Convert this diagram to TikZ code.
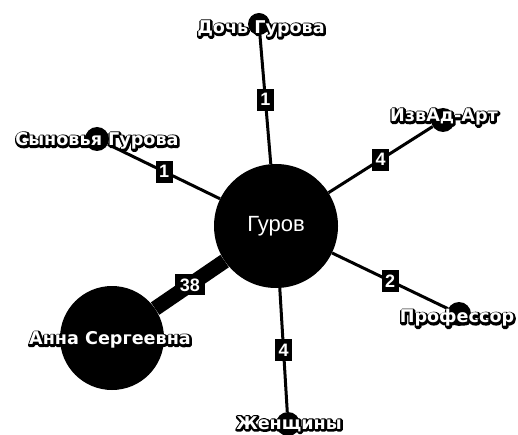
\documentclass[tikz,border=0pt]{standalone}
\usepackage{fontspec}
\setmainfont{Liberation Sans}
\newfontfamily\lblfont{DejaVu Sans}
\newcommand{\strk}[1]{\special{pdf:literal direct 2 Tr 3.8 w 1 j}#1\special{pdf:literal direct 0 Tr}}
\newcommand{\halolabel}[4]{%
  \node[wlabel,text=black] (#3h) at (#1+0.6,#2+0.6) {\strk{#4}};
  \node[wlabel,text=white] (#3) at (#1,#2) {#4};
}
\begin{document}
\begin{tikzpicture}[x=1pt,y=-1pt,
  vert/.style={circle,fill=black,inner sep=0pt,minimum size=#1},
  edge/.style={line width=3pt,black},
  wlabel/.style={font=\lblfont\bfseries\fontsize{17.6}{18}\selectfont,inner sep=0pt},
  numbox/.style={fill=black,text=white,font=\bfseries\fontsize{18}{18}\selectfont,minimum width=17pt,minimum height=22pt,inner sep=1pt}]
\useasboundingbox (0,0) rectangle (518,435);
\fill[white] (0,0) rectangle (518,435);
% vertices
\node[vert=124pt,text=white,font=\fontsize{22}{22}\selectfont] (gurov) at (276,226) {Гуров};
\node[vert=104pt] (anna) at (112,338) {};
\node[vert=22pt] (doch) at (259,24) {};
\node[vert=24pt] (syn) at (97,139) {};
\node[vert=24pt] (izv) at (443,120) {};
\node[vert=24pt] (prof) at (459,314) {};
\node[vert=24pt] (zhen) at (288,424) {};
% edges
\draw[edge] (gurov) -- node[numbox] (e1) {1} (doch);
\draw[edge] (gurov) -- node[numbox] (e2) {1} (syn);
\draw[edge] (gurov) -- node[numbox] (e3) {4} (izv);
\draw[edge] (gurov) -- node[numbox] (e4) {2} (prof);
\draw[edge] (gurov) -- node[numbox] (e5) {4} (zhen);
\draw[line width=15pt] (gurov) -- node[numbox,minimum width=30pt,minimum height=21pt] (e6) {38} (anna);
% labels
\halolabel{261}{29}{tdoch}{Дочь Гурова}
\halolabel{97}{141}{tsyn}{Сыновья Гурова}
\halolabel{444}{117}{tizv}{ИзвАд-Арт}
\halolabel{457}{318}{tprof}{Профессор}
\halolabel{289}{424}{tzhen}{Женщины}
\halolabel{110}{340}{tanna}{Анна Сергеевна}
\end{tikzpicture}
\end{document}
